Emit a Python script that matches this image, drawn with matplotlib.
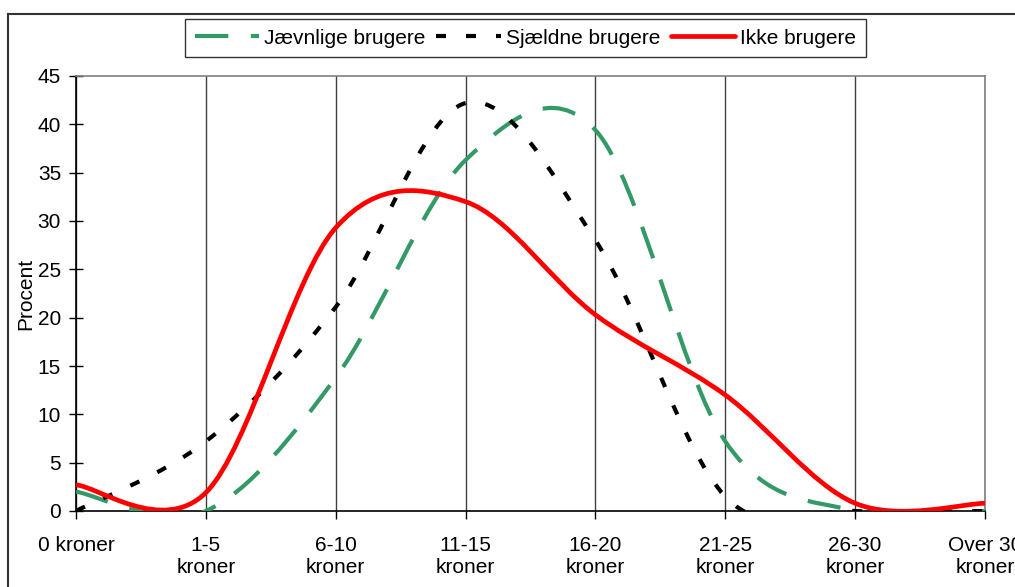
import numpy as np
import matplotlib
matplotlib.use("Agg")
import matplotlib.pyplot as plt
from matplotlib.path import Path
from matplotlib.patches import PathPatch
from matplotlib.lines import Line2D

plt.rcParams['font.family'] = ['Liberation Sans', 'DejaVu Sans']

categories = ["0 kroner", "1-5\nkroner", "6-10\nkroner", "11-15\nkroner",
              "16-20\nkroner", "21-25\nkroner", "26-30\nkroner", "Over 30\nkroner"]
jaevnlige = [2.0, 0.0, 13.8, 36.3, 39.4, 7.2, 0.0, 0.0]
sjaeldne = [0.0, 7.2, 21.1, 42.2, 28.0, 1.5, 0.0, 0.0]
ikke = [2.7, 1.9, 29.3, 32.0, 20.3, 12.0, 0.8, 0.8]
series_names = ["Jævnlige brugere", "Sjældne brugere", "Ikke brugere"]
yticks = [0, 5, 10, 15, 20, 25, 30, 35, 40, 45]

W, H = 1015, 587


def smooth_path(ys):
    """Excel-style smoothed line: cubic Bezier segments through the data points."""
    xs = np.arange(len(ys), dtype=float)
    pts = np.column_stack([xs, np.asarray(ys, dtype=float)])
    n = len(pts)
    verts = [pts[0]]
    codes = [Path.MOVETO]
    for i in range(n - 1):
        p0 = pts[i - 1] if i > 0 else pts[i]
        p1 = pts[i]
        p2 = pts[i + 1]
        p3 = pts[i + 2] if i + 2 < n else pts[i + 1]
        c1 = p1 + (p2 - p0) / 6.0
        c2 = p2 - (p3 - p1) / 6.0
        verts += [c1, c2, p2]
        codes += [Path.CURVE4] * 3
    return Path(verts, codes)


fig = plt.figure(figsize=(W / 100, H / 100), dpi=100)
ax = fig.add_axes([76 / W, 1 - 511 / H, (985 - 76) / W, (511 - 76) / H])

styles = [
    dict(color="#339966", lw=3.0, ls=(0, (8, 5.4))),
    dict(color="black", lw=3.0, ls=(0, (2.4, 4.8))),
    dict(color="#ff0000", lw=3.4, ls="solid"),
]
handles = []
for ys, st, name in zip([jaevnlige, sjaeldne, ikke], styles, series_names):
    patch = PathPatch(smooth_path(ys), facecolor="none", edgecolor=st["color"],
                      lw=st["lw"], linestyle=st["ls"], capstyle="butt",
                      joinstyle="round", zorder=3)
    ax.add_patch(patch)
    handles.append(Line2D([], [], color=st["color"], lw=st["lw"],
                          linestyle=st["ls"], solid_capstyle="round",
                          dash_capstyle="butt", label=name))

ax.set_xlim(0, len(categories) - 1)
ax.set_ylim(0, 45)
ax.set_xticks(range(len(categories)))
ax.set_xticklabels(categories, linespacing=1.2)
ax.set_yticks(yticks)
ax.tick_params(axis="x", direction="out", length=6, width=1, pad=12,
               labelsize=15, colors="black")
ax.tick_params(axis="y", direction="inout", length=9.5, width=1, pad=6,
               labelsize=15, colors="black")
ax.xaxis.grid(True, color="#404040", lw=1)
ax.set_axisbelow(True)
for s in ["left", "bottom"]:
    ax.spines[s].set_color("black")
    ax.spines[s].set_linewidth(1.2)
    ax.spines[s].set_zorder(2.5)
for s in ["top", "right"]:
    ax.spines[s].set_color("#808080")
    ax.spines[s].set_linewidth(1.2)

fig.text(26 / W, 1 - 294 / H, "Procent", rotation=90, ha="center",
         va="center", fontsize=15)

leg = fig.legend(handles=handles, loc="center", ncol=3,
                 bbox_to_anchor=(525.5 / W, 1 - 38 / H), fontsize=15,
                 frameon=True, fancybox=False, shadow=False,
                 handlelength=3.1, handletextpad=0.25, columnspacing=0.5,
                 borderpad=0.45, borderaxespad=0)
leg.get_frame().set_edgecolor("black")
leg.get_frame().set_linewidth(1.0)

# chart-area border (top and left edges visible in the crop)
fig.add_artist(Line2D([8 / W, 1.0], [1 - 14 / H, 1 - 14 / H],
                      transform=fig.transFigure, color="#333333", lw=1.5))
fig.add_artist(Line2D([8 / W, 8 / W], [0.0, 1 - 14 / H],
                      transform=fig.transFigure, color="#333333", lw=1.5))

fig.savefig("out.png", dpi=100)
